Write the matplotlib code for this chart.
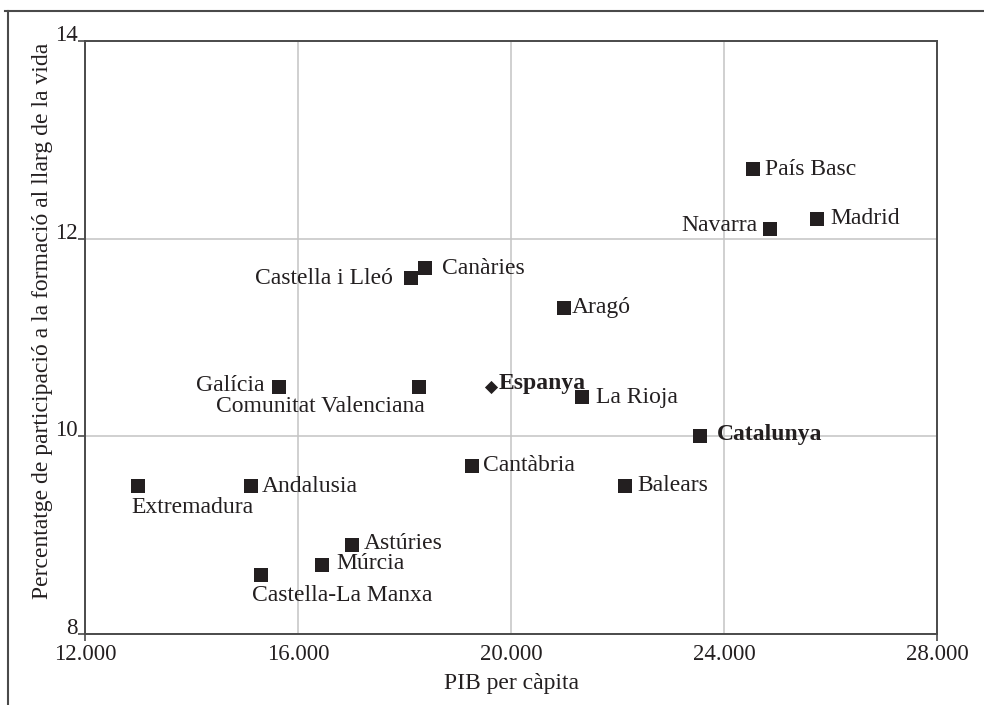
import matplotlib.pyplot as plt
from matplotlib.lines import Line2D

plt.rcParams['font.family'] = ['Liberation Serif', 'DejaVu Serif']

# data
regions = ['País Basc', 'Madrid', 'Navarra', 'Canàries', 'Castella i Lleó', 'Aragó',
           'Galícia', 'Comunitat Valenciana', 'La Rioja', 'Catalunya', 'Cantàbria',
           'Balears', 'Extremadura', 'Andalusia', 'Astúries', 'Múrcia', 'Castella-La Manxa']
pib = [24550, 25750, 24860, 18390, 18120, 21000,
       15640, 18270, 21340, 23550, 19270,
       22150, 13000, 15120, 17020, 16460, 15310]
formacio = [12.7, 12.2, 12.1, 11.7, 11.6, 11.3,
            10.5, 10.5, 10.4, 10.0, 9.7,
            9.5, 9.5, 9.5, 8.9, 8.7, 8.6]

spain_label = 'Espanya'
spain_pib = 19620
spain_formacio = 10.5

xticks = [12000, 16000, 20000, 24000, 28000]
xtick_labels = ['12.000', '16.000', '20.000', '24.000', '28.000']
yticks = [8, 10, 12, 14]

# label placement: (dx px, dy px, ha)
label_pos = {
    'País Basc': (12, 0, 'left'),
    'Madrid': (13, 0, 'left'),
    'Navarra': (-12, 3, 'right'),
    'Canàries': (17, 0, 'left'),
    'Castella i Lleó': (-18, 0, 'right'),
    'Aragó': (8, 0, 'left'),
    'Galícia': (-14, 1, 'right'),
    'Comunitat Valenciana': (6, -20, 'right'),
    'La Rioja': (14, -1, 'left'),
    'Catalunya': (17, 2, 'left'),
    'Cantàbria': (11, 0, 'left'),
    'Balears': (12, 0, 'left'),
    'Extremadura': (-7, -22, 'left'),
    'Andalusia': (11, -1, 'left'),
    'Astúries': (11, 2, 'left'),
    'Múrcia': (14, 1, 'left'),
    'Castella-La Manxa': (-9, -21, 'left'),
}

ink = '#231f20'

fig = plt.figure(figsize=(9.84, 7.05), dpi=100)
ax = fig.add_axes([85 / 984, 71 / 705, 852 / 984, 593 / 705])

ax.scatter(pib, formacio, marker='s', s=95, color=ink, zorder=3, linewidths=0)
ax.scatter([spain_pib], [spain_formacio], marker='D', s=45, color=ink, zorder=3, linewidths=0)

for name, x, y in zip(regions, pib, formacio):
    dx, dy, ha = label_pos[name]
    weight = 'bold' if name == 'Catalunya' else 'normal'
    ax.annotate(name, (x, y), xytext=(dx, dy), textcoords='offset pixels',
                ha=ha, va='center', fontsize=17, color=ink, fontweight=weight)
ax.annotate(spain_label, (spain_pib, spain_formacio), xytext=(8, 3), textcoords='offset pixels',
            ha='left', va='center', fontsize=17, color=ink, fontweight='bold')

ax.set_xlim(12000, 28000)
ax.set_ylim(8, 14)
ax.set_xticks(xticks)
ax.set_xticklabels(xtick_labels)
ax.set_yticks(yticks)

ax.grid(True, color='#c4c4c4', linewidth=1.1)
ax.set_axisbelow(True)
for side in ['left', 'right', 'top', 'bottom']:
    ax.spines[side].set_color('#4a4a4a')
    ax.spines[side].set_linewidth(1.4)

ax.tick_params(axis='both', direction='out', length=5, width=1.2, color='#4a4a4a',
               labelsize=16.5, labelcolor=ink)
ax.tick_params(axis='x', pad=2)
ax.tick_params(axis='y', pad=0)
for t in ax.xaxis.get_major_ticks()[1:-1]:
    t.tick1line.set_visible(False)
for lbl in ax.get_yticklabels():
    lbl.set_verticalalignment('baseline')

ax.set_xlabel('PIB per càpita', fontsize=17, color=ink, labelpad=6)
ax.set_ylabel('Percentatge de participació a la formació al llarg de la vida',
              fontsize=17, color=ink)
ax.yaxis.set_label_coords(-0.037, 0.528)

# outer frame (top and left only)
fig.add_artist(Line2D([5 / 984, 1], [1 - 10.5 / 705, 1 - 10.5 / 705],
                      transform=fig.transFigure, color='#4a4a4a', linewidth=1.5))
fig.add_artist(Line2D([8 / 984, 8 / 984], [0, 1 - 10.5 / 705],
                      transform=fig.transFigure, color='#4a4a4a', linewidth=1.5))

fig.savefig('out.png', dpi=100)
